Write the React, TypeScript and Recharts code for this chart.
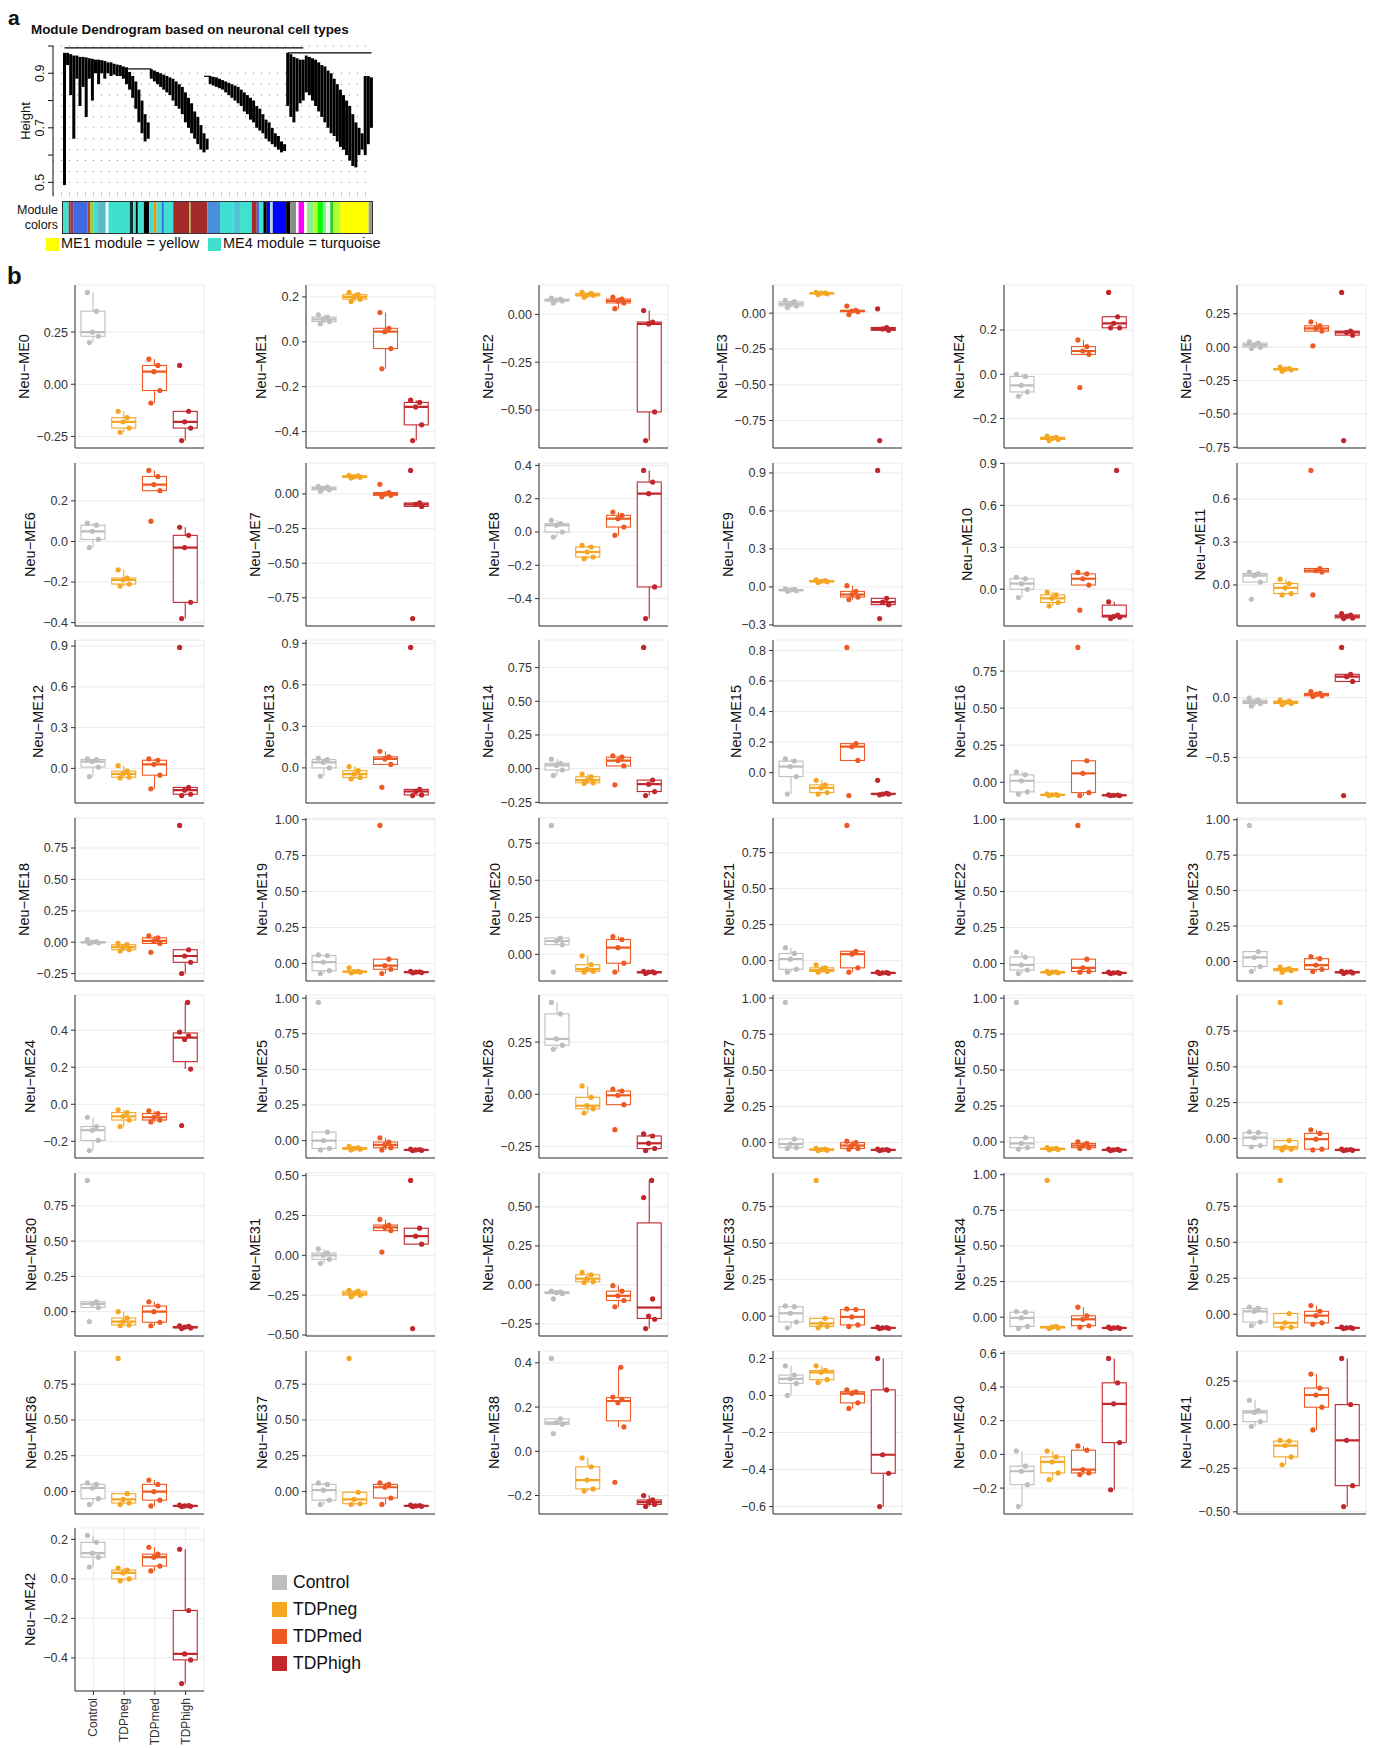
import React from "react";
import { ComposedChart, BarChart, Bar, Scatter, XAxis, YAxis, CartesianGrid, ReferenceLine } from "recharts";

const FONT = '"Liberation Sans", Arial, Helvetica, sans-serif';

// ---------- panel b data ----------
const GROUPS = ["Control", "TDPneg", "TDPmed", "TDPhigh"];
const GROUP_COLORS = ["#BEBEBE", "#F5A623", "#EE5A24", "#C1272D"];

const ME_TICKS: number[][] = [
  [-0.25, 0, 0.25], [-0.4, -0.2, 0, 0.2], [-0.5, -0.25, 0], [-0.75, -0.5, -0.25, 0], [-0.2, 0, 0.2], [-0.75, -0.5, -0.25, 0, 0.25],
  [-0.4, -0.2, 0, 0.2], [-0.75, -0.5, -0.25, 0], [-0.4, -0.2, 0, 0.2, 0.4], [-0.3, 0, 0.3, 0.6, 0.9], [0, 0.3, 0.6, 0.9], [0, 0.3, 0.6],
  [0, 0.3, 0.6, 0.9], [0, 0.3, 0.6, 0.9], [-0.25, 0, 0.25, 0.5, 0.75], [0, 0.2, 0.4, 0.6, 0.8], [0, 0.25, 0.5, 0.75], [-0.5, 0],
  [-0.25, 0, 0.25, 0.5, 0.75], [0, 0.25, 0.5, 0.75, 1], [0, 0.25, 0.5, 0.75], [0, 0.25, 0.5, 0.75], [0, 0.25, 0.5, 0.75, 1], [0, 0.25, 0.5, 0.75, 1],
  [-0.2, 0, 0.2, 0.4], [0, 0.25, 0.5, 0.75, 1], [-0.25, 0, 0.25], [0, 0.25, 0.5, 0.75, 1], [0, 0.25, 0.5, 0.75, 1], [0, 0.25, 0.5, 0.75],
  [0, 0.25, 0.5, 0.75], [-0.5, -0.25, 0, 0.25, 0.5], [-0.25, 0, 0.25, 0.5], [0, 0.25, 0.5, 0.75], [0, 0.25, 0.5, 0.75, 1], [0, 0.25, 0.5, 0.75],
  [0, 0.25, 0.5, 0.75], [0, 0.25, 0.5, 0.75], [-0.2, 0, 0.2, 0.4], [-0.6, -0.4, -0.2, 0, 0.2], [-0.2, 0, 0.2, 0.4, 0.6], [-0.5, -0.25, 0, 0.25],
  [-0.4, -0.2, 0, 0.2],
];

const CONTROL: number[][] = [
  [0.20, 0.23, 0.25, 0.35, 0.44], [0.08, 0.09, 0.10, 0.11, 0.12], [0.06, 0.07, 0.075, 0.08, 0.085], [0.04, 0.05, 0.065, 0.08, 0.09],
  [-0.10, -0.08, -0.05, -0.01, 0.0], [-0.01, 0.0, 0.015, 0.03, 0.04], [-0.03, 0.01, 0.05, 0.08, 0.09], [0.02, 0.03, 0.04, 0.05, 0.055],
  [-0.03, 0.0, 0.04, 0.05, 0.07], [-0.035, -0.03, -0.025, -0.02, -0.015], [-0.06, 0.0, 0.04, 0.075, 0.085], [-0.10, 0.02, 0.065, 0.08, 0.09],
  [-0.06, 0.01, 0.05, 0.065, 0.07], [-0.06, 0.0, 0.04, 0.06, 0.07], [-0.05, -0.01, 0.025, 0.04, 0.07], [-0.14, -0.025, 0.04, 0.075, 0.09],
  [-0.08, -0.065, 0.01, 0.05, 0.07], [-0.07, -0.05, -0.035, -0.02, -0.005], [-0.01, -0.005, 0.0, 0.005, 0.02], [-0.07, -0.05, 0.01, 0.055, 0.06],
  [-0.12, 0.065, 0.09, 0.11, 0.87], [-0.08, -0.06, 0.01, 0.05, 0.09], [-0.07, -0.045, -0.01, 0.045, 0.08], [-0.07, -0.035, 0.03, 0.07, 0.96],
  [-0.25, -0.195, -0.14, -0.12, -0.07], [-0.065, -0.055, 0.0, 0.06, 0.97], [0.215, 0.235, 0.265, 0.385, 0.44], [-0.04, -0.035, -0.01, 0.025, 0.97],
  [-0.05, -0.04, -0.01, 0.03, 0.97], [-0.06, -0.05, 0.005, 0.04, 0.045], [-0.07, 0.03, 0.055, 0.07, 0.93], [-0.05, -0.025, 0.0, 0.015, 0.04],
  [-0.09, -0.055, -0.05, -0.045, -0.04], [-0.08, -0.04, 0.02, 0.065, 0.07], [-0.08, -0.065, -0.005, 0.035, 0.04], [-0.08, -0.055, 0.02, 0.04, 0.05],
  [-0.09, -0.05, 0.025, 0.05, 0.06], [-0.09, -0.06, 0.01, 0.05, 0.06], [0.08, 0.122, 0.13, 0.147, 0.42], [0.0, 0.065, 0.09, 0.11, 0.16],
  [-0.31, -0.18, -0.1, -0.07, 0.02], [-0.01, 0.017, 0.07, 0.08, 0.14], [0.06, 0.11, 0.13, 0.185, 0.22],
];

const TDPNEG: number[][] = [
  [-0.23, -0.21, -0.18, -0.16, -0.13], [0.18, 0.19, 0.20, 0.21, 0.22], [0.09, 0.10, 0.10, 0.11, 0.115], [0.13, 0.135, 0.14, 0.14, 0.145],
  [-0.30, -0.295, -0.29, -0.285, -0.28], [-0.18, -0.17, -0.165, -0.16, -0.15], [-0.22, -0.21, -0.19, -0.18, -0.14], [0.115, 0.12, 0.125, 0.13, 0.135],
  [-0.16, -0.15, -0.12, -0.09, -0.08], [0.035, 0.04, 0.045, 0.05, 0.055], [-0.12, -0.095, -0.065, -0.04, -0.02], [-0.07, -0.06, -0.02, 0.01, 0.04],
  [-0.07, -0.065, -0.04, -0.02, 0.02], [-0.08, -0.07, -0.045, -0.02, 0.01], [-0.11, -0.105, -0.085, -0.06, -0.04], [-0.14, -0.13, -0.10, -0.08, -0.05],
  [-0.09, -0.088, -0.085, -0.083, -0.08], [-0.06, -0.05, -0.04, -0.03, -0.02], [-0.07, -0.06, -0.04, -0.02, -0.01], [-0.065, -0.06, -0.057, -0.055, -0.03],
  [-0.12, -0.115, -0.10, -0.07, -0.01], [-0.08, -0.075, -0.065, -0.05, -0.03], [-0.07, -0.065, -0.06, -0.058, -0.055], [-0.075, -0.065, -0.058, -0.05, -0.04],
  [-0.12, -0.085, -0.065, -0.045, -0.03], [-0.065, -0.06, -0.055, -0.05, -0.04], [-0.09, -0.07, -0.055, -0.015, 0.04], [-0.055, -0.052, -0.048, -0.045, -0.04],
  [-0.055, -0.052, -0.048, -0.045, -0.04], [-0.08, -0.075, -0.06, -0.015, 0.95], [-0.10, -0.095, -0.07, -0.045, 0.0], [-0.26, -0.25, -0.24, -0.225, -0.22],
  [0.015, 0.02, 0.04, 0.065, 0.08], [-0.08, -0.07, -0.05, -0.015, 0.93], [-0.08, -0.075, -0.07, -0.065, 0.96], [-0.095, -0.09, -0.06, 0.005, 0.93],
  [-0.09, -0.08, -0.055, -0.015, 0.93], [-0.09, -0.085, -0.055, -0.005, 0.93], [-0.18, -0.17, -0.13, -0.07, -0.03], [0.07, 0.085, 0.125, 0.135, 0.16],
  [-0.15, -0.11, -0.045, -0.015, 0.02], [-0.23, -0.185, -0.12, -0.095, -0.09], [-0.01, 0.0, 0.03, 0.045, 0.055],
];

const TDPMED: number[][] = [
  [-0.09, -0.03, 0.06, 0.09, 0.12], [-0.12, -0.03, 0.045, 0.06, 0.13], [0.03, 0.06, 0.07, 0.08, 0.09], [-0.01, 0.01, 0.015, 0.02, 0.05],
  [-0.06, 0.09, 0.105, 0.125, 0.155], [0.01, 0.12, 0.14, 0.16, 0.19], [0.10, 0.25, 0.28, 0.32, 0.35], [-0.02, -0.01, 0.0, 0.01, 0.07],
  [-0.02, 0.03, 0.08, 0.10, 0.12], [-0.10, -0.08, -0.06, -0.035, 0.01], [-0.15, 0.03, 0.075, 0.11, 0.12], [-0.07, 0.09, 0.10, 0.115, 0.8],
  [-0.15, -0.05, 0.03, 0.06, 0.07], [-0.14, 0.025, 0.065, 0.08, 0.12], [-0.12, 0.02, 0.06, 0.085, 0.095], [-0.15, 0.08, 0.17, 0.19, 0.82],
  [-0.09, -0.07, 0.06, 0.145, 0.91], [0.01, 0.015, 0.025, 0.035, 0.05], [-0.08, -0.01, 0.01, 0.035, 0.05], [-0.07, -0.04, -0.015, 0.03, 0.96],
  [-0.12, -0.06, 0.045, 0.10, 0.12], [-0.08, -0.05, 0.045, 0.065, 0.94], [-0.06, -0.055, -0.03, 0.03, 0.96], [-0.07, -0.055, -0.025, 0.02, 0.035],
  [-0.095, -0.085, -0.07, -0.05, -0.035], [-0.065, -0.05, -0.03, -0.01, 0.02], [-0.17, -0.05, -0.005, 0.015, 0.025], [-0.045, -0.04, -0.02, 0.0, 0.01],
  [-0.045, -0.04, -0.025, -0.01, 0.0], [-0.08, -0.075, -0.005, 0.035, 0.06], [-0.10, -0.075, 0.0, 0.04, 0.07], [0.02, 0.155, 0.175, 0.19, 0.225],
  [-0.14, -0.10, -0.07, -0.04, -0.005], [-0.07, -0.06, -0.005, 0.045, 0.05], [-0.07, -0.06, -0.015, 0.01, 0.07], [-0.07, -0.06, -0.01, 0.02, 0.06],
  [-0.10, -0.06, 0.0, 0.05, 0.08], [-0.09, -0.045, 0.03, 0.05, 0.06], [-0.14, 0.11, 0.22, 0.235, 0.245, 0.38], [-0.07, -0.04, 0.01, 0.02, 0.03],
  [-0.12, -0.11, -0.09, 0.025, 0.05], [-0.03, 0.10, 0.17, 0.21, 0.29], [0.04, 0.065, 0.11, 0.125, 0.16],
];

const TDPHIGH: number[][] = [
  [-0.27, -0.21, -0.18, -0.13, 0.09], [-0.44, -0.37, -0.29, -0.27, -0.26], [-0.66, -0.51, -0.05, -0.04, 0.02], [-0.89, -0.12, -0.11, -0.10, 0.03],
  [0.21, 0.21, 0.23, 0.26, 0.37], [-0.70, 0.09, 0.11, 0.12, 0.41], [-0.38, -0.30, -0.03, 0.03, 0.07], [-0.90, -0.09, -0.075, -0.065, 0.17],
  [-0.52, -0.33, 0.23, 0.30, 0.37], [-0.25, -0.14, -0.12, -0.09, 0.92], [-0.21, -0.20, -0.195, -0.185, -0.09, 0.85], [-0.235, -0.23, -0.22, -0.21, -0.20],
  [-0.20, -0.19, -0.16, -0.14, 0.89], [-0.20, -0.195, -0.17, -0.155, 0.87], [-0.20, -0.17, -0.115, -0.085, 0.90], [-0.145, -0.14, -0.14, -0.135, -0.05],
  [-0.09, -0.09, -0.088, -0.086, -0.085], [-0.82, 0.135, 0.175, 0.195, 0.42], [-0.25, -0.16, -0.11, -0.06, 0.93], [-0.065, -0.063, -0.06, -0.058, -0.055],
  [-0.13, -0.125, -0.12, -0.118, -0.115], [-0.09, -0.088, -0.085, -0.083, -0.08], [-0.07, -0.068, -0.065, -0.063, -0.06], [-0.085, -0.08, -0.075, -0.072, -0.07],
  [-0.115, 0.19, 0.35, 0.37, 0.39, 0.55], [-0.07, -0.068, -0.065, -0.063, -0.06], [-0.27, -0.26, -0.235, -0.20, -0.19], [-0.055, -0.053, -0.05, -0.048, -0.045],
  [-0.06, -0.058, -0.055, -0.052, -0.05], [-0.085, -0.083, -0.08, -0.078, -0.075], [-0.12, -0.115, -0.11, -0.105, -0.10], [-0.46, 0.07, 0.12, 0.17, 0.47],
  [-0.28, -0.22, -0.20, -0.09, 0.56, 0.67], [-0.085, -0.083, -0.08, -0.078, -0.075], [-0.08, -0.078, -0.075, -0.073, -0.07], [-0.10, -0.098, -0.095, -0.093, -0.09],
  [-0.105, -0.103, -0.10, -0.098, -0.095], [-0.105, -0.103, -0.10, -0.098, -0.095], [-0.25, -0.24, -0.23, -0.22, -0.20], [-0.60, -0.42, -0.32, 0.03, 0.20],
  [-0.21, 0.07, 0.30, 0.425, 0.57], [-0.47, -0.35, -0.09, 0.115, 0.38], [-0.53, -0.41, -0.38, -0.16, 0.15],
];

const SERIES = [CONTROL, TDPNEG, TDPMED, TDPHIGH];

// ---------- panel a data ----------
const LEAF_LOW = [
  0.49, 0.93, 0.82, 0.66, 0.88, 0.78, 0.85, 0.74, 0.88, 0.80, 0.90, 0.86, 0.90, 0.88, 0.90, 0.89, 0.895, 0.89, 0.89, 0.88,
  0.86, 0.84, 0.81, 0.77, 0.72, 0.68, 0.65, 0.66, 0.88, 0.87, 0.86, 0.85, 0.84, 0.83, 0.82, 0.80, 0.78, 0.77, 0.75, 0.72,
  0.70, 0.68, 0.66, 0.64, 0.62, 0.61, 0.62, 0.86, 0.855, 0.85, 0.845, 0.84, 0.83, 0.82, 0.81, 0.80, 0.79, 0.78, 0.76, 0.75,
  0.73, 0.72, 0.70, 0.69, 0.68, 0.66, 0.65, 0.64, 0.63, 0.62, 0.61, 0.615, 0.78, 0.74, 0.72, 0.76, 0.79, 0.80, 0.83, 0.82,
  0.80, 0.78, 0.76, 0.74, 0.72, 0.70, 0.68, 0.67, 0.65, 0.63, 0.62, 0.60, 0.58, 0.56, 0.555, 0.60, 0.62, 0.60, 0.64, 0.70,
];
const LEAF_HIGH = [
  0.975, 0.975, 0.97, 0.965, 0.965, 0.96, 0.96, 0.958, 0.955, 0.953, 0.95, 0.95, 0.948, 0.945, 0.94, 0.94, 0.935, 0.932, 0.93, 0.925,
  0.922, 0.905, 0.89, 0.87, 0.84, 0.80, 0.75, 0.72, 0.915, 0.91, 0.905, 0.90, 0.895, 0.89, 0.885, 0.88, 0.87, 0.86, 0.85, 0.83,
  0.81, 0.79, 0.76, 0.74, 0.71, 0.68, 0.66, 0.89, 0.887, 0.885, 0.88, 0.875, 0.87, 0.865, 0.86, 0.855, 0.85, 0.84, 0.83, 0.82,
  0.81, 0.80, 0.78, 0.77, 0.75, 0.73, 0.72, 0.70, 0.68, 0.67, 0.65, 0.64, 0.975, 0.97, 0.96, 0.955, 0.95, 0.95, 0.965, 0.96,
  0.955, 0.95, 0.94, 0.93, 0.925, 0.91, 0.90, 0.88, 0.86, 0.84, 0.82, 0.80, 0.78, 0.75, 0.72, 0.70, 0.68, 0.89, 0.89, 0.885,
];
// [from leaf, to leaf, merge height]
const MERGES = [[0, 77, 0.993], [20, 28, 0.916], [45, 47, 0.889], [72, 99, 0.975]];
const DENDRO_TICKS = [0.5, 0.6, 0.7, 0.8, 0.9, 1.0];
const DENDRO_LABELS = ["0.5", "0.7", "0.9"];
const DOT_ROWS = [0.46, 0.5, 0.54, 0.58, 0.62, 0.66, 0.7, 0.74, 0.78, 0.82, 0.86, 0.9];

const MODULE_COLORS = [
  "#40E0D0", "#A52A2A", "#8B3A62", "#4169E1", "#A0522D", "#9ACD32", "#40E0D0", "#5FB8C8", "#E0FFFF", "#40E0D0",
  "#0D2F2F", "#40E0D0", "#000000", "#40E0D0", "#000000", "#40E0D0", "#FF8C00", "#40E0D0", "#4169E1", "#40E0D0",
  "#A52A2A", "#9ACD32", "#A52A2A", "#4A90D9", "#40E0D0", "#4FC4D6", "#40E0D0", "#A52A2A", "#4169E1", "#40E0D0",
  "#000000", "#0000FF", "#ADD8E6", "#0000FF", "#000000", "#8C8C8C", "#FFFFFF", "#FF00FF", "#FFFFFF", "#90EE90",
  "#ADFF2F", "#00FF00", "#90EE90", "#E0FFE0", "#32CD32", "#ADFF2F", "#FFFF00", "#999999",
];
const MODULE_WIDTHS = [
  17, 6, 9, 41, 9, 10, 13, 23, 8, 64,
  10, 8, 6, 18, 16, 14, 8, 15, 7, 28,
  48, 4, 50, 38, 40, 20, 35, 15, 8, 12,
  10, 10, 8, 40, 12, 18, 7, 17, 8, 20,
  12, 16, 10, 12, 10, 20, 85, 10,
];

// ---------- layout ----------
const COL_RIGHT = [204, 435, 668, 902, 1133, 1366];
const PLOT_W = 129, PLOT_H = 163, YW = 100, MR = 2, MT = 10;
const ROW_TOP = 285, ROW_PITCH = 177.6;
const JITTER = [-4, 5, -1, 3, -6, 2];

const quant = (s: number[], p: number) => {
  const h = (s.length - 1) * p, i = Math.floor(h), f = h - i;
  return i + 1 < s.length ? s[i] + f * (s[i + 1] - s[i]) : s[i];
};
const boxStats = (pts: number[]) => {
  const s = [...pts].sort((a, b) => a - b);
  const q1 = quant(s, 0.25), med = quant(s, 0.5), q3 = quant(s, 0.75), iqr = q3 - q1;
  const inside = s.filter(v => v >= q1 - 1.5 * iqr && v <= q3 + 1.5 * iqr);
  return { q1, med, q3, lo: Math.min(inside[0], q1), hi: Math.max(inside[inside.length - 1], q3) };
};
const decimals = (ticks: number[]) => Math.max(...ticks.map(t => (String(t).split(".")[1] || "").length));
const fmt = (v: number, d: number) => (v < 0 ? "\u2212" : "") + Math.abs(v).toFixed(d);
const textW = (s: string) => [...s].reduce((w, ch) => w + (ch === "." ? 3.48 : ch === "\u2212" ? 7.3 : 6.95), 0);

const BoxShape = (props: any) => {
  const { x, y, width, height, payload } = props;
  if (!payload || x == null) return <g />;
  const top = Math.min(y, y + height), bot = Math.max(y, y + height);
  const [lo, hi] = payload.range;
  const py = (v: number) => (hi === lo ? top : bot - ((v - lo) / (hi - lo)) * (bot - top));
  const c = payload.color, cx = x + width / 2;
  return (
    <g>
      <line x1={cx} x2={cx} y1={top} y2={py(payload.q3)} stroke={c} strokeWidth={1.1} />
      <line x1={cx} x2={cx} y1={py(payload.q1)} y2={bot} stroke={c} strokeWidth={1.1} />
      <rect x={x} y={py(payload.q3)} width={width} height={Math.max(py(payload.q1) - py(payload.q3), 0.5)} fill="#fff" stroke={c} strokeWidth={1.1} />
      <line x1={x} x2={x + width} y1={py(payload.med)} y2={py(payload.med)} stroke={c} strokeWidth={2.2} />
    </g>
  );
};

const dotShape = (k: number) => (props: any) => {
  const { cx, cy, payload } = props;
  if (cx == null || cy == null || isNaN(cy) || payload?.["p" + k] == null) return <g />;
  return <circle cx={cx + JITTER[k]} cy={cy} r={2.6} fill={payload.color} />;
};

const RotTick = (props: any) => {
  const { x, y, payload } = props;
  return (
    <text x={x} y={y} transform={`rotate(-90, ${x}, ${y})`} textAnchor="end" dominantBaseline="central" fontSize={12} fill="#333">
      {payload.value}
    </text>
  );
};

function ModulePanel({ m }: { m: number }) {
  const r = Math.floor(m / 6), c = m % 6;
  const last = m === 42;
  const ticksAll = ME_TICKS[m];
  const all = SERIES.flatMap(s => s[m]);
  const mn = Math.min(...all), mx = Math.max(...all), pad = (mx - mn) * 0.05;
  const dom: [number, number] = [mn - pad, mx + pad];
  const ticks = ticksAll.filter(t => t >= dom[0] - 1e-9 && t <= dom[1] + 1e-9);
  const d = decimals(ticksAll);
  const tw = Math.max(...ticks.map(t => textW(fmt(t, d))));
  const rows = GROUPS.map((g, gi) => {
    const pts = SERIES[gi][m];
    const st = boxStats(pts);
    const row: any = { g, color: GROUP_COLORS[gi], range: [st.lo, st.hi], q1: st.q1, med: st.med, q3: st.q3 };
    pts.forEach((v, k) => (row["p" + k] = v));
    return row;
  });
  const xh = last ? 58 : 6;
  const left = COL_RIGHT[c] - PLOT_W - YW;
  const top = ROW_TOP + r * ROW_PITCH - MT;
  return (
    <div style={{ position: "absolute", left, top }}>
      <ComposedChart width={YW + PLOT_W + MR} height={MT + PLOT_H + xh} data={rows} margin={{ top: MT, right: MR, bottom: 0, left: 0 }}>
        <CartesianGrid stroke="#EBEBEB" strokeWidth={1} />
        <XAxis dataKey="g" type="category" height={xh} padding={{ left: 3, right: 3 }} axisLine={{ stroke: "#333" }}
          tickLine={{ stroke: "#333" }} tickSize={4} tickMargin={3} interval={0}
          tick={last ? <RotTick /> : false} />
        <YAxis type="number" domain={dom} ticks={ticks} allowDataOverflow interval={0} width={YW}
          tickSize={4} tickMargin={3} axisLine={{ stroke: "#333" }} tickLine={{ stroke: "#333" }}
          tick={{ fontSize: 12.5, fill: "#333" }} tickFormatter={(v: number) => fmt(v, d)}
          label={{ value: `Neu\u2212ME${m}`, angle: -90, position: "insideLeft", offset: YW - (4 + 3 + tw + 5 + 8),
            style: { textAnchor: "middle", fontSize: 14.5, fill: "#111" } }} />
        <Bar dataKey="range" barSize={24} shape={<BoxShape />} isAnimationActive={false} />
        {JITTER.map((_, k) => (
          <Scatter key={k} dataKey={"p" + k} shape={dotShape(k)} isAnimationActive={false} />
        ))}
      </ComposedChart>
    </div>
  );
}

const DendroTick = (props: any) => {
  const { x, y, payload } = props;
  const s = payload.value.toFixed(1);
  if (!DENDRO_LABELS.includes(s)) return <g />;
  return (
    <text x={x - 6} y={y} transform={`rotate(-90, ${x - 6}, ${y})`} textAnchor="middle" dominantBaseline="central" fontSize={12.5} fill="#111">{s}</text>
  );
};

function Dendrogram() {
  const data = LEAF_LOW.map((b, i) => ({ id: i, span: [b, LEAF_HIGH[i]] }));
  return (
    <div style={{ position: "absolute", left: 0, top: 40 }}>
      <ComposedChart width={375} height={158} data={data} margin={{ top: 6, right: 2, bottom: 2, left: 0 }} barCategoryGap={0}>
        <CartesianGrid yAxisId="dots" vertical={false} stroke="#8a8a8a" strokeDasharray="1 7" />
        <XAxis dataKey="id" type="category" hide padding={{ left: 10, right: 0 }} />
        <YAxis type="number" domain={[0.45, 1]} ticks={DENDRO_TICKS} allowDataOverflow interval={0} width={53}
          tickSize={5} tickMargin={2} axisLine={{ stroke: "#111" }} tickLine={{ stroke: "#111" }} tick={<DendroTick />}
          label={{ value: "Height", angle: -90, position: "insideLeft", offset: 25, style: { textAnchor: "middle", fontSize: 13, fill: "#111" } }} />
        <YAxis yAxisId="dots" type="number" hide domain={[0.45, 1]} ticks={DOT_ROWS} allowDataOverflow interval={0} />
        <Bar dataKey="span" fill="#000" isAnimationActive={false} />
        {MERGES.map(([a, b, h], i) => (
          <ReferenceLine key={i} segment={[{ x: a, y: h }, { x: b, y: h }]} stroke="#000" strokeWidth={1.2} />
        ))}
      </ComposedChart>
    </div>
  );
}

function ModuleColors() {
  const row: any = { name: "m" };
  MODULE_WIDTHS.forEach((w, i) => (row["s" + i] = w));
  const total = MODULE_WIDTHS.reduce((a, b) => a + b, 0);
  return (
    <div style={{ position: "absolute", left: 62, top: 201, width: 311, height: 33, border: "1px solid #333", boxSizing: "border-box" }}>
      <BarChart width={309} height={31} data={[row]} layout="vertical" margin={{ top: 0, right: 0, bottom: 0, left: 0 }} barCategoryGap={0}>
        <XAxis type="number" hide domain={[0, total]} />
        <YAxis type="category" dataKey="name" hide />
        {MODULE_COLORS.map((col, i) => (
          <Bar key={i} dataKey={"s" + i} stackId="m" fill={col} isAnimationActive={false} />
        ))}
      </BarChart>
    </div>
  );
}

export default function App() {
  const modules = ME_TICKS.map((_, i) => i);
  return (
    <div style={{ position: "absolute", left: 0, top: 0, width: 1378, height: 1748, fontFamily: FONT, background: "#fff", color: "#111" }}>
      <div style={{ position: "absolute", left: 8, top: 6, fontSize: 21, fontWeight: 700 }}>a</div>
      <div style={{ position: "absolute", left: 31, top: 22, fontSize: 13.4, fontWeight: 700 }}>Module Dendrogram based on neuronal cell types</div>
      <Dendrogram />
      <ModuleColors />
      <div style={{ position: "absolute", left: 10, top: 203, width: 48, fontSize: 12.5, lineHeight: "15px", textAlign: "right" }}>Module<br />colors</div>
      <div style={{ position: "absolute", left: 46, top: 238, width: 13, height: 13, background: "#FFFF00" }} />
      <div style={{ position: "absolute", left: 61, top: 235, fontSize: 14.5 }}>ME1 module = yellow</div>
      <div style={{ position: "absolute", left: 208, top: 238, width: 13, height: 13, background: "#40E0D0" }} />
      <div style={{ position: "absolute", left: 223, top: 235, fontSize: 14.5 }}>ME4 module = turquoise</div>

      <div style={{ position: "absolute", left: 7, top: 262, fontSize: 24, fontWeight: 700 }}>b</div>
      {modules.map(m => <ModulePanel key={m} m={m} />)}

      {GROUPS.map((g, i) => (
        <div key={g} style={{ position: "absolute", left: 272, top: 1574 + i * 27.3, display: "flex", alignItems: "center", height: 16 }}>
          <div style={{ width: 15, height: 15, background: GROUP_COLORS[i], marginRight: 6 }} />
          <span style={{ fontSize: 17.5 }}>{g}</span>
        </div>
      ))}
    </div>
  );
}
